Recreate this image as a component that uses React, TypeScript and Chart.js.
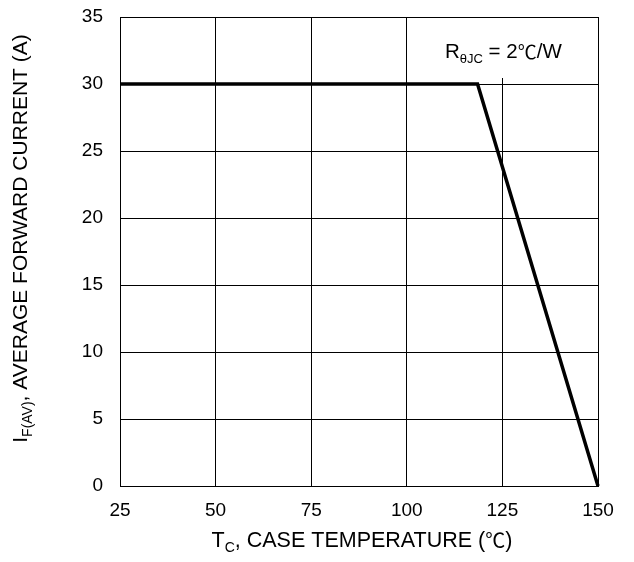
import React, { useEffect, useRef } from "react";
import { Chart, registerables } from "chart.js";

Chart.register(...registerables);

// Data
const caseTempC = [25, 118.5, 150];
const forwardCurrentA = [30, 30, 0];

// Axis ranges / ticks
const xMin = 25;
const xMax = 150;
const xStep = 25;
const yMin = 0;
const yMax = 35;
const yStep = 5;

// Texts (parts: [text, kind]) kind: n = normal, s = subscript, c = CJK symbol
type Part = [string, "n" | "s" | "c"];
const xTitleParts: Part[] = [["T", "n"], ["C", "s"], [", CASE TEMPERATURE (", "n"], ["℃", "c"], [")", "n"]];
const yTitleParts: Part[] = [["I", "n"], ["F(AV)", "s"], [", AVERAGE FORWARD CURRENT (A)", "n"]];
const noteParts: Part[] = [["R", "n"], ["θJC", "s"], [" = 2", "n"], ["℃", "c"], ["/W", "n"]];

const FONT = "Arial, 'Liberation Sans', sans-serif";
const CJK = "'Noto Sans CJK JP', 'Noto Sans CJK SC', sans-serif";

function fontFor(kind: string, size: number) {
  if (kind === "s") return `${Math.round(size * 0.65)}px ${FONT}`;
  if (kind === "c") return `${Math.round(size * 0.95)}px ${CJK}`;
  return `${size}px ${FONT}`;
}

function measureParts(ctx: CanvasRenderingContext2D, parts: Part[], size: number) {
  let w = 0;
  for (const [t, k] of parts) {
    ctx.font = fontFor(k, size);
    w += ctx.measureText(t).width;
  }
  return w;
}

function drawParts(ctx: CanvasRenderingContext2D, parts: Part[], x: number, y: number, size: number) {
  ctx.textBaseline = "alphabetic";
  ctx.textAlign = "left";
  ctx.fillStyle = "#000";
  let cx = x;
  for (const [t, k] of parts) {
    ctx.font = fontFor(k, size);
    ctx.fillText(t, cx, k === "s" ? y + size * 0.22 : k === "c" ? y + size * 0.05 : y);
    cx += ctx.measureText(t).width;
  }
}

const decorPlugin = {
  id: "decor",
  beforeDatasetsDraw(chart: any) {
    const { ctx, chartArea } = chart;
    ctx.save();
    ctx.fillStyle = "#fff";
    ctx.fillRect(chartArea.right - 168, chartArea.top + 1, 167, 60);
    ctx.restore();
  },
  afterDraw(chart: any) {
    const { ctx, chartArea } = chart;
    ctx.save();
    drawParts(ctx, noteParts, chartArea.right - 153, chartArea.top + 41, 20.5);
    const xw = measureParts(ctx, xTitleParts, 21.5);
    drawParts(ctx, xTitleParts, (chartArea.left + chartArea.right) / 2 + 3 - xw / 2, chartArea.bottom + 61, 21.5);
    const yw = measureParts(ctx, yTitleParts, 21);
    ctx.translate(27, (chartArea.top + chartArea.bottom) / 2 - 13);
    ctx.rotate(-Math.PI / 2);
    drawParts(ctx, yTitleParts, -yw / 2, 0, 21);
    ctx.restore();
  },
};

export default function App() {
  const ref = useRef<HTMLCanvasElement>(null);
  useEffect(() => {
    if (!ref.current) return;
    const chart = new Chart(ref.current, {
      type: "scatter",
      data: {
        datasets: [
          {
            data: caseTempC.map((x, i) => ({ x, y: forwardCurrentA[i] })),
            showLine: true,
            borderColor: "#000",
            borderWidth: 3.5,
            pointRadius: 0,
            fill: false,
            tension: 0,
            clip: false as any,
          },
        ],
      },
      options: {
        responsive: false,
        animation: false,
        devicePixelRatio: 1,
        layout: { autoPadding: false, padding: { top: 17, right: 36, left: 0, bottom: 0 } },
        plugins: { legend: { display: false }, tooltip: { enabled: false }, title: { display: false } },
        scales: {
          x: {
            type: "linear",
            min: xMin,
            max: xMax,
            afterFit: (s: any) => {
              s.height = 76;
              s.paddingLeft = 0;
              s.paddingRight = 0;
            },
            ticks: {
              stepSize: xStep,
              color: "#000",
              font: { family: FONT, size: 19 },
              padding: 13,
              maxRotation: 0,
            },
            grid: { color: "#000", lineWidth: 1, drawTicks: false },
            border: { color: "#000", width: 1 },
          },
          y: {
            type: "linear",
            min: yMin,
            max: yMax,
            afterFit: (s: any) => {
              s.width = 120;
              s.paddingTop = 0;
              s.paddingBottom = 0;
            },
            ticks: {
              stepSize: yStep,
              color: "#000",
              font: { family: FONT, size: 19 },
              padding: 17,
            },
            grid: { color: "#000", lineWidth: 1, drawTicks: false },
            border: { color: "#000", width: 1 },
          },
        },
      },
      plugins: [decorPlugin],
    } as any);
    return () => chart.destroy();
  }, []);
  return (
    <div style={{ position: "fixed", left: 0, top: 0, width: 634, height: 562, background: "#fff" }}>
      <canvas ref={ref} width={634} height={562} style={{ width: 634, height: 562 }} />
    </div>
  );
}
